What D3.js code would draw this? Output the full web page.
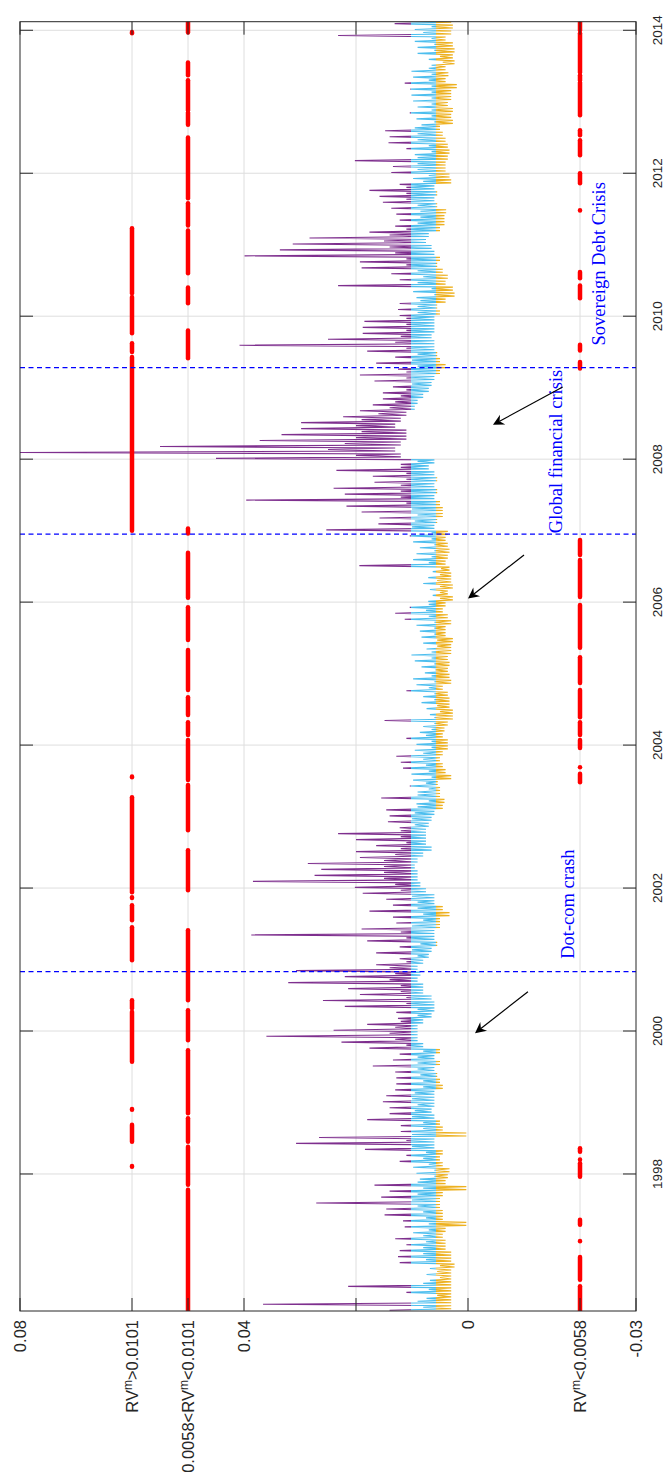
<!DOCTYPE html>
<html>
<head>
<meta charset="utf-8">
<script src="https://cdn.jsdelivr.net/npm/d3@7/dist/d3.min.js"></script>
<style>
  body { margin: 0; background: #fff; }
  text { font-family: "Liberation Sans", Arial, sans-serif; fill: #262626; }
  .note { font-family: "Liberation Serif", "Times New Roman", serif; fill: #0000ff; }
</style>
</head>
<body>
<script>
// daily RV, one [high, typical, low] triple per month
var rv1996 = [[.014,.008,.003], [.0366,.009,.003], [.0074,.0055,.003], [.011,.007,.003], [.0214,.008,.003], [.0068,.005,.003], [.0074,.0055,.003], [.0068,.005,.0024], [.0122,.0075,.003], [.0125,.008,.003], [.0122,.008,.004]];
var rv1997 = [[.011,.0075,.004], [.013,.008,.0045], [.0098,.007,.004], [.0113,.007,.0003], [.0116,.0075,.0045], [.0149,.008,.0045], [.0146,.009,.005], [.0271,.01,.005], [.0155,.009,.0045], [.014,.008,.0003], [.0167,.009,.004], [.0086,.006,.0036]];
var rv1998 = [[.0092,.006,.0033], [.0098,.007,.0045], [.0122,.008,.005], [.011,.0075,.0045], [.0184,.01,.006], [.0307,.011,.006], [.0266,.01,.0003], [.012,.008,.0045], [.012,.008,.005], [.018,.01,.006], [.014,.0095,.0065], [.014,.009,.006]];
var rv1999 = [[.0152,.01,.006], [.0146,.0095,.006], [.013,.008,.0045], [.0128,.008,.005], [.0128,.0085,.0055], [.013,.009,.006], [.017,.009,.005], [.0134,.009,.006], [.0122,.008,.005], [.0176,.011,.008], [.0226,.013,.009], [.036,.014,.009]];
var rv2000 = [[.024,.013,.009], [.018,.012,.008], [.0125,.009,.0065], [.0128,.009,.006], [.022,.011,.006], [.0259,.011,.0065], [.0193,.012,.008], [.0214,.012,.008], [.0321,.014,.009], [.022,.013,.0085], [.0307,.014,.009], [.0164,.011,.008]];
var rv2001 = [[.0122,.009,.007], [.0164,.01,.0065], [.0122,.0085,.0055], [.018,.011,.006], [.0387,.012,.006], [.019,.01,.005], [.0128,.008,.005], [.0134,.008,.0033], [.0176,.009,.0045], [.0134,.009,.006], [.0146,.01,.006], [.0188,.012,.0075]];
var rv2002 = [[.0202,.013,.0085], [.0384,.015,.009], [.0274,.015,.009], [.0262,.015,.0095], [.0286,.015,.009], [.0193,.013,.008], [.02,.012,.0065], [.0164,.011,.0075], [.02,.012,.0075], [.0232,.012,.0075], [.0122,.0095,.007], [.0143,.01,.0065]];
var rv2003 = [[.014,.0095,.006], [.0146,.009,.0045], [.0092,.007,.0042], [.0155,.009,.005], [.009,.007,.005], [.0104,.0075,.0054], [.0098,.0065,.003], [.0101,.007,.004], [.0116,.0075,.0045], [.012,.008,.005], [.0128,.008,.0045], [.0095,.0065,.0036]];
var rv2004 = [[.0092,.0065,.0036], [.011,.0075,.0045], [.0086,.0065,.0042], [.008,.006,.0036], [.0149,.006,.0027], [.0068,.005,.0027], [.0074,.0055,.0033], [.0083,.006,.0033], [.008,.006,.0036], [.011,.007,.0045], [.0092,.006,.003], [.0098,.0065,.0033]];
var rv2005 = [[.0077,.0058,.0036], [.0083,.006,.0033], [.0095,.0065,.0036], [.0101,.0065,.003], [.0074,.0055,.003], [.008,.0055,.0027], [.0083,.006,.004], [.0086,.006,.004], [.0092,.006,.003], [.0113,.007,.0036], [.013,.0075,.0045], [.0104,.007,.004]];
var rv2006 = [[.0071,.005,.0027], [.0063,.005,.0036], [.0068,.005,.0027], [.008,.0055,.003], [.0071,.005,.003], [.0063,.0048,.0033], [.0194,.007,.004], [.0098,.0065,.0036], [.0092,.006,.0033], [.0086,.006,.0036], [.0098,.0065,.004], [.0104,.0065,.0036]];
var rv2007 = [[.0253,.01,.006], [.016,.0095,.0055], [.0158,.009,.0045], [.019,.01,.0045], [.0217,.011,.005], [.0396,.012,.006], [.022,.012,.0055], [.024,.012,.006], [.0167,.011,.0055], [.017,.011,.006], [.0235,.012,.007], [.012,.009,.006]];
var rv2008 = [[.045,.02,.012], [.08,.025,.013], [.055,.022,.012], [.0372,.02,.011], [.0333,.019,.011], [.0298,.02,.013], [.0298,.019,.012], [.0223,.016,.011], [.0193,.014,.0095], [.017,.013,.009], [.0152,.012,.008], [.0152,.011,.007]];
var rv2009 = [[.0134,.01,.0065], [.0167,.011,.006], [.0193,.011,.005], [.0125,.009,.004], [.0164,.01,.005], [.013,.009,.0055], [.018,.011,.006], [.0408,.013,.006], [.025,.012,.0065], [.0188,.011,.006], [.0188,.011,.006], [.0185,.011,.006]];
var rv2010 = [[.0122,.009,.005], [.0125,.009,.0055], [.0122,.0085,.004], [.0092,.006,.0024], [.0098,.0065,.0027], [.0232,.009,.004], [.0122,.008,.0036], [.0137,.009,.0045], [.019,.011,.0055], [.0193,.011,.005], [.0399,.013,.006], [.0336,.014,.0065]];
var rv2011 = [[.0313,.015,.0075], [.0283,.014,.007], [.0176,.011,.005], [.013,.009,.0042], [.0122,.0085,.0042], [.0128,.0085,.0039], [.0137,.009,.0055], [.0152,.011,.006], [.0158,.011,.0055], [.0176,.011,.006], [.0122,.008,.003], [.0098,.007,.0033]];
var rv2012 = [[.0137,.009,.004], [.0134,.009,.004], [.0202,.009,.0036], [.0095,.0065,.0033], [.011,.007,.0036], [.0142,.009,.004], [.014,.009,.0045], [.0148,.0095,.005], [.0083,.006,.0027], [.0092,.0065,.003], [.0104,.0065,.0027], [.009,.0065,.0036]];
var rv2013 = [[.0098,.0065,.003], [.0101,.0065,.003], [.0103,.0065,.002], [.0113,.007,.004], [.0098,.0065,.0035], [.0101,.007,.004], [.0065,.0045,.0024], [.007,.005,.0027], [.009,.006,.0024], [.009,.006,.0027], [.0095,.0065,.004], [.0232,.008,.003]];
var rv2014 = [[.0095,.0065,.0027], [.0131,.008,.003]];

var years = [1996, 1997, 1998, 1999, 2000, 2001, 2002, 2003, 2004, 2005, 2006, 2007, 2008, 2009, 2010, 2011, 2012, 2013, 2014];
var rvByYear = [rv1996, rv1997, rv1998, rv1999, rv2000, rv2001, rv2002, rv2003, rv2004, rv2005, rv2006, rv2007, rv2008, rv2009, rv2010, rv2011, rv2012, rv2013, rv2014];
var firstMonth1996 = 1; // series starts in February 1996

var thresholds = [0.0058, 0.0101];

// days in each RV^m regime (decimal years), one list per row
var spansHigh = [[2013.96, 2013.975], [2010.32, 2011.23], [2009.76, 2010.27], [2009.5, 2009.62], [2007.0, 2009.43],
  [2003.55, 2003.56], [2001.94, 2003.27], [2001.86, 2001.87], [2001.55, 2001.76], [2000.99, 2001.45],
  [2000.32, 2000.43], [1999.57, 2000.27], [1998.9, 1998.91], [1998.45, 1998.69], [1998.1, 1998.11]];
var spansMid = [[2013.97, 2014.12], [2013.37, 2013.55], [2012.88, 2013.3], [2012.68, 2012.85], [2011.65, 2012.5],
  [2011.27, 2011.58], [2010.6, 2011.2], [2010.18, 2010.4], [2009.41, 2009.8], [2006.96, 2007.03],
  [2006.06, 2006.69], [2005.47, 2005.93], [2004.77, 2005.33], [2004.42, 2004.67], [2004.14, 2004.32],
  [2003.51, 2004.07], [2002.81, 2003.44], [2001.97, 2002.53], [2000.43, 2001.41], [1999.87, 2000.29],
  [1998.85, 1999.73], [1998.45, 1998.78], [1997.85, 1998.38], [1996.09, 1997.78]];
var spansLow = [[1996.09, 1996.43], [1996.52, 1996.84], [1997.06, 1997.061], [1997.29, 1997.36], [1997.96, 1998.15], [1998.20, 1998.201], [1998.31, 1998.36],
  [2003.48, 2003.6], [2003.69, 2003.691], [2003.96, 2004.07], [2004.14, 2004.32], [2004.39, 2004.77], [2004.87, 2005.23],
  [2005.36, 2005.96], [2006.07, 2006.59], [2006.66, 2006.87], [2009.27, 2009.36], [2009.52, 2009.6], [2010.25, 2010.43],
  [2010.53, 2010.62], [2011.48, 2011.481], [2011.86, 2012.0], [2012.25, 2012.46], [2012.53, 2012.6], [2012.81, 2013.27],
  [2013.30, 2013.37], [2013.41, 2013.96], [2014.0, 2014.12]];
var rowLevels = [0.06, 0.05, -0.02];

var crisisDates = [2000.83, 2006.95, 2009.28];
var crisisNames = ["Dot-com crash", "Global financial crisis", "Sovereign Debt Crisis"];

var valueTicks = [-0.03, -0.02, 0, 0.02, 0.04, 0.05, 0.06, 0.08];
var valueTickLabels = ["-0.03", "RV^m<0.0058", "0", "", "0.04", "0.0058<RV^m<0.0101", "RV^m>0.0101", "0.08"];
var yearTicks = [1998, 2000, 2002, 2004, 2006, 2008, 2010, 2012, 2014];

var width = 665, height = 1483;
var pLeft = 20, pRight = 636, pTop = 21.7, pBottom = 1311;

var purple = "#7E2F8E", blue = "#4DBEEE", orange = "#EDB120";

var svg = d3.select("body").append("svg")
  .attr("width", width)
  .attr("height", height);

// value runs right-to-left, time runs bottom-to-top (the figure is turned)
var v = d3.scaleLinear().domain([-0.03, 0.08]).range([pRight, pLeft]);
var t = d3.scaleLinear().domain([1996.083, 2014.12]).range([pBottom, pTop]);

var defs = svg.append("defs");
defs.append("clipPath").attr("id", "plotclip")
  .append("rect").attr("x", pLeft).attr("y", pTop)
  .attr("width", pRight - pLeft).attr("height", pBottom - pTop);

var o1 = (v(thresholds[1]) - pLeft) / (pRight - pLeft),
    o2 = (v(thresholds[0]) - pLeft) / (pRight - pLeft);
var grad = defs.append("linearGradient").attr("id", "levels")
  .attr("gradientUnits", "userSpaceOnUse")
  .attr("x1", pLeft).attr("x2", pRight).attr("y1", 0).attr("y2", 0);
[[0, purple], [o1, purple], [o1, blue], [o2, blue], [o2, orange], [1, orange]].forEach(function(s) {
  grad.append("stop").attr("offset", s[0]).attr("stop-color", s[1]);
});

// grid
var grid = svg.append("g").attr("stroke", "#dedede").attr("stroke-width", 1);
grid.selectAll(".gv").data(valueTicks.slice(1, -1)).enter().append("line")
  .attr("x1", function(d) { return v(d); }).attr("x2", function(d) { return v(d); })
  .attr("y1", pTop).attr("y2", pBottom);
grid.selectAll(".gh").data(yearTicks).enter().append("line")
  .attr("y1", function(d) { return t(d); }).attr("y2", function(d) { return t(d); })
  .attr("x1", pLeft).attr("x2", pRight);

// series: within a month the line swings high, low, typical, low
var pts = [];
rvByYear.forEach(function(arr, k) {
  var m0 = years[k] === 1996 ? firstMonth1996 : 0;
  arr.forEach(function(m, j) {
    var t0 = years[k] + (m0 + j) / 12;
    [m[0], m[2], m[1], m[2]].forEach(function(val, q) {
      pts.push([t0 + (q + 0.5) / 48, val]);
    });
  });
});

var plot = svg.append("g").attr("clip-path", "url(#plotclip)");

plot.append("path")
  .datum(pts)
  .attr("fill", "none")
  .attr("stroke", "url(#levels)")
  .attr("stroke-width", 1.15)
  .attr("d", d3.line().x(function(d) { return v(d[1]); }).y(function(d) { return t(d[0]); }));

// regime rows
[spansHigh, spansMid, spansLow].forEach(function(spans, r) {
  plot.append("g").selectAll("line").data(spans).enter().append("line")
    .attr("x1", v(rowLevels[r])).attr("x2", v(rowLevels[r]))
    .attr("y1", function(d) { return t(d[0]); })
    .attr("y2", function(d) { return t(d[1]); })
    .attr("stroke", "#ff0000")
    .attr("stroke-width", 4.5)
    .attr("stroke-linecap", "round");
});

// crisis lines
plot.selectAll(".crisis").data(crisisDates).enter().append("line")
  .attr("x1", pLeft).attr("x2", pRight)
  .attr("y1", function(d) { return t(d); }).attr("y2", function(d) { return t(d); })
  .attr("stroke", "#0000ff")
  .attr("stroke-width", 1.2)
  .attr("stroke-dasharray", "5,3.5");

// frame and ticks
var ax = svg.append("g").attr("stroke", "#262626").attr("stroke-width", 1).attr("fill", "none");
ax.append("rect").attr("x", pLeft).attr("y", pTop).attr("width", pRight - pLeft).attr("height", pBottom - pTop);
var tl = 13;
valueTicks.forEach(function(d) {
  ax.append("line").attr("x1", v(d)).attr("x2", v(d)).attr("y1", pBottom).attr("y2", pBottom - tl);
  ax.append("line").attr("x1", v(d)).attr("x2", v(d)).attr("y1", pTop).attr("y2", pTop + tl);
});
yearTicks.forEach(function(d) {
  ax.append("line").attr("y1", t(d)).attr("y2", t(d)).attr("x1", pRight).attr("x2", pRight - tl);
  ax.append("line").attr("y1", t(d)).attr("y2", t(d)).attr("x1", pLeft).attr("x2", pLeft + tl);
});

// value tick labels (under the frame, turned)
valueTicks.forEach(function(d, i) {
  var lab = valueTickLabels[i];
  if (!lab) return;
  var x = v(d) + 5.8, y = pBottom + 9;
  var tx = svg.append("text")
    .attr("transform", "translate(" + x + "," + y + ") rotate(-90)")
    .attr("text-anchor", "end")
    .attr("font-size", 16.5);
  var parts = lab.split("^m");
  if (parts.length === 1) {
    tx.text(lab);
  } else {
    tx.append("tspan").text(parts[0]);
    tx.append("tspan").attr("dy", -6).attr("font-size", 12).text("m");
    tx.append("tspan").attr("dy", 6).text(parts[1]);
  }
});

// year labels on the right
svg.selectAll(".yl").data(yearTicks).enter().append("text")
  .attr("transform", function(d) { return "translate(" + (pRight + 26) + "," + t(d) + ") rotate(-90)"; })
  .attr("text-anchor", "middle")
  .attr("font-size", 13.5)
  .text(function(d) { return d; });

// crisis names
var notePos = [[-0.019, 2001.01], [-0.0168, 2006.965], [-0.0245, 2009.59]];
crisisNames.forEach(function(name, i) {
  svg.append("text").attr("class", "note")
    .attr("transform", "translate(" + v(notePos[i][0]) + "," + t(notePos[i][1]) + ") rotate(-90)")
    .attr("font-size", 18.5)
    .text(name);
});

// arrows
var arrows = [
  [[-0.0107, 2000.55], [-0.00125, 1999.97]],
  [[-0.0100, 2006.66], [0.0000, 2006.05]],
  [[-0.0169, 2009.01], [-0.00446, 2008.48]]
];
arrows.forEach(function(a) {
  var x0 = v(a[0][0]), y0 = t(a[0][1]), x1 = v(a[1][0]), y1 = t(a[1][1]);
  var ang = Math.atan2(y1 - y0, x1 - x0);
  var L = 11, Wd = 5.5, N = 7.5;
  var ca = Math.cos(ang), sa = Math.sin(ang);
  var bx = x1 - L * ca, by = y1 - L * sa;
  var nx = x1 - N * ca, ny = y1 - N * sa;
  svg.append("line").attr("x1", x0).attr("y1", y0).attr("x2", nx).attr("y2", ny)
    .attr("stroke", "#000").attr("stroke-width", 1.2);
  svg.append("path")
    .attr("d", "M" + x1 + "," + y1 +
      "L" + (bx - Wd * sa) + "," + (by + Wd * ca) +
      "L" + nx + "," + ny +
      "L" + (bx + Wd * sa) + "," + (by - Wd * ca) + "Z")
    .attr("fill", "#000");
});
</script>
</body>
</html>
